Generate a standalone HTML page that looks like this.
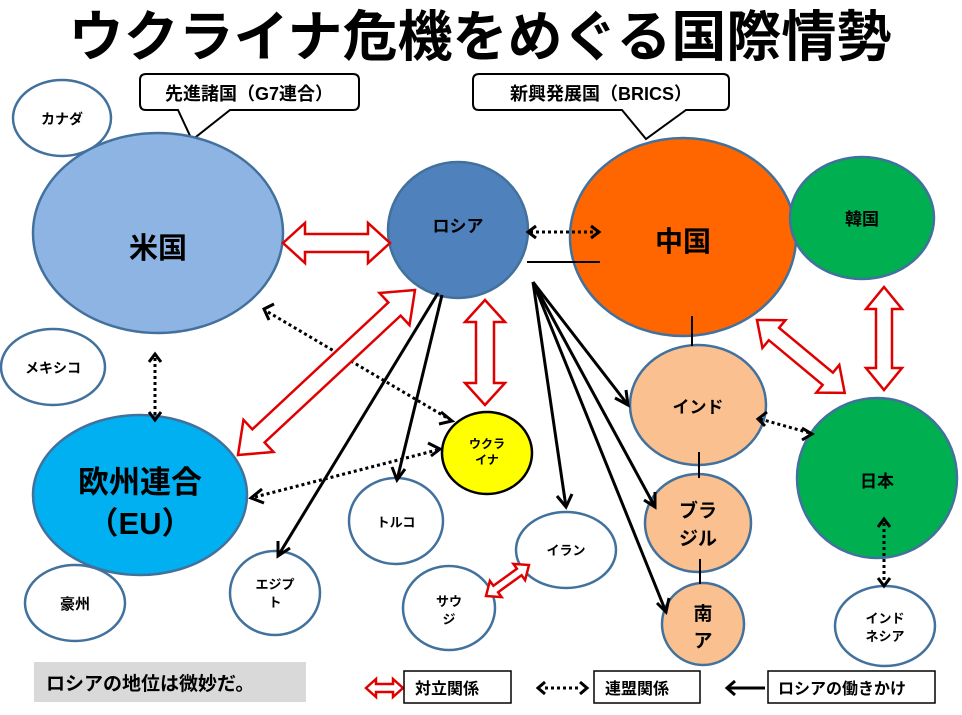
<!DOCTYPE html>
<html><head><meta charset="utf-8"><style>
body{margin:0;background:#fff;}
svg{display:block;}
text{font-family:"Liberation Sans","Noto Sans CJK JP",sans-serif;font-weight:bold;fill:#000;}
</style></head><body>
<svg width="962" height="715" viewBox="0 0 962 715" xmlns="http://www.w3.org/2000/svg">
<text x="480" y="56" font-size="55" text-anchor="middle">ウクライナ危機をめぐる国際情勢</text>

<path d="M146,74 H353 Q359,74 359,80 V104 Q359,110 353,110 H230 L192,140 L178,110 H146 Q140,110 140,104 V80 Q140,74 146,74 Z" fill="#fff" stroke="#000" stroke-width="2"/>
<text x="249" y="100" font-size="18" text-anchor="middle">先進諸国（G7連合）</text>
<path d="M479,74 H723 Q729,74 729,80 V104 Q729,110 723,110 H686 L646,139 L622,110 H479 Q473,110 473,104 V80 Q473,74 479,74 Z" fill="#fff" stroke="#000" stroke-width="2"/>
<text x="601" y="100" font-size="18" text-anchor="middle">新興発展国（BRICS）</text>

<g stroke="#41719C" stroke-width="2.5">
<ellipse cx="62" cy="118" rx="49" ry="38" fill="#fff"/>
<ellipse cx="53" cy="367" rx="52" ry="38" fill="#fff"/>
<ellipse cx="158" cy="233" rx="125" ry="100" fill="#8EB4E3"/>
<ellipse cx="140" cy="495" rx="107" ry="80" fill="#00B0F0"/>
<ellipse cx="75" cy="603" rx="50" ry="38" fill="#fff"/>
<ellipse cx="458" cy="230" rx="70" ry="68" fill="#4F81BD"/>
<ellipse cx="683" cy="237" rx="113" ry="99" fill="#FF6600"/>
<ellipse cx="862" cy="218" rx="72" ry="61" fill="#00B050"/>
<ellipse cx="698" cy="405" rx="68" ry="60" fill="#FAC090"/>
<ellipse cx="698" cy="523" rx="53" ry="49" fill="#FAC090"/>
<ellipse cx="703" cy="624" rx="41" ry="41" fill="#FAC090"/>
<ellipse cx="877" cy="478" rx="80" ry="80" fill="#00B050"/>
<ellipse cx="885" cy="626" rx="50" ry="40" fill="#fff"/>
<ellipse cx="396" cy="521" rx="47" ry="43" fill="#fff"/>
<ellipse cx="566" cy="550" rx="50" ry="38" fill="#fff"/>
<ellipse cx="449" cy="608" rx="46" ry="42" fill="#fff"/>
<ellipse cx="275" cy="593" rx="45" ry="42" fill="#fff"/>
</g>
<ellipse cx="487" cy="453" rx="45" ry="41" fill="#FFFF00" stroke="#000" stroke-width="2.5"/>

<text x="62" y="124" font-size="14" text-anchor="middle">カナダ</text>
<text x="53" y="373" font-size="14" text-anchor="middle">メキシコ</text>
<text x="158" y="258" font-size="29" text-anchor="middle">米国</text>
<text x="140" y="493" font-size="31" text-anchor="middle">欧州連合</text>
<text x="140" y="534" font-size="31" text-anchor="middle">（EU）</text>
<text x="75" y="609" font-size="15" text-anchor="middle">豪州</text>
<text x="458" y="232" font-size="17" text-anchor="middle">ロシア</text>
<text x="683" y="251" font-size="28" text-anchor="middle">中国</text>
<text x="862" y="225" font-size="17" text-anchor="middle">韓国</text>
<text x="698" y="413" font-size="17" text-anchor="middle">インド</text>
<text x="698" y="517" font-size="19" text-anchor="middle">ブラ</text>
<text x="698" y="545" font-size="19" text-anchor="middle">ジル</text>
<text x="703" y="620" font-size="19" text-anchor="middle">南</text>
<text x="703" y="647" font-size="19" text-anchor="middle">ア</text>
<text x="877" y="487" font-size="17" text-anchor="middle">日本</text>
<text x="885" y="623" font-size="13" text-anchor="middle">インド</text>
<text x="885" y="641" font-size="13" text-anchor="middle">ネシア</text>
<text x="487" y="448" font-size="12" font-weight="normal" text-anchor="middle">ウクラ</text>
<text x="487" y="464" font-size="12" font-weight="normal" text-anchor="middle">イナ</text>
<text x="396" y="527" font-size="13" text-anchor="middle">トルコ</text>
<text x="566" y="555" font-size="13" text-anchor="middle">イラン</text>
<text x="449" y="606" font-size="13" text-anchor="middle">サウ</text>
<text x="449" y="624" font-size="13" text-anchor="middle">ジ</text>
<text x="275" y="589" font-size="13" text-anchor="middle">エジプ</text>
<text x="275" y="607" font-size="13" text-anchor="middle">ト</text>

<g stroke="#000" stroke-width="2">
<line x1="527" y1="262" x2="600" y2="262"/>
<line x1="692" y1="316" x2="692" y2="346"/>
<line x1="699" y1="452" x2="699" y2="478"/>
<line x1="700" y1="559" x2="700" y2="584"/>
</g>

<g stroke="#000" stroke-width="3" fill="none">
<line x1="533" y1="282" x2="628" y2="405"/>
<polyline points="615,398 628,405 626,390"/>
<line x1="533" y1="282" x2="655" y2="507"/>
<polyline points="644,500 655,507 655,492"/>
<line x1="533" y1="282" x2="666" y2="612"/>
<polyline points="657,603 666,612 669,598"/>
<line x1="533" y1="282" x2="566" y2="507"/>
<polyline points="557,496 566,507 572,494"/>
<line x1="442" y1="295" x2="397" y2="480"/>
<polyline points="392,467 397,480 405,469"/>
<line x1="438" y1="293" x2="278" y2="556"/>
<polyline points="278,541 278,556 290,548"/>
</g>

<g stroke="#000" stroke-width="3" fill="none">
<line x1="155" y1="358" x2="155" y2="416" stroke-dasharray="3,3"/>
<polyline points="149,362 155,354 161,362"/><polyline points="149,412 155,420 161,412"/>
<line x1="268" y1="312" x2="449" y2="419" stroke-dasharray="3,3"/>
<polyline points="274,304 264,309 269,320"/><polyline points="441,412 452,421 439,424"/>
<line x1="255" y1="497" x2="437" y2="450" stroke-dasharray="3,3"/>
<polyline points="262,489 251,498 264,503"/><polyline points="428,443 440,449 431,456"/>
<line x1="530" y1="232" x2="597" y2="232" stroke-dasharray="3,3"/>
<polyline points="536,226 528,232 536,238"/><polyline points="591,226 599,232 591,238"/>
<line x1="760" y1="419" x2="810" y2="433" stroke-dasharray="3,3"/>
<polyline points="767,412 758,419 765,426"/><polyline points="802,428 812,434 802,440"/>
<line x1="884" y1="523" x2="884" y2="582" stroke-dasharray="3,3"/>
<polyline points="878,527 884,519 890,527"/><polyline points="878,578 884,586 890,578"/>
</g>

<g fill="#fff" stroke="#E00000" stroke-width="2.5" stroke-linejoin="miter">
<polygon transform="translate(283,243)" points="0,0 22,-20 22,-9 85,-9 85,-20 107,0 85,20 85,9 22,9 22,20"/>
<polygon transform="translate(485,300) rotate(90)" points="0,0 22,-20 22,-9 83,-9 83,-20 105,0 83,20 83,9 22,9 22,20"/>
<polygon transform="translate(238,455) rotate(-43)" points="0,0 28,-22 28,-9 214,-9 214,-22 242,0 214,22 214,9 28,9 28,22"/>
<polygon transform="translate(757,320) rotate(39.7)" points="0,0 22,-18 22,-8 92,-8 92,-18 114,0 92,18 92,8 22,8 22,18"/>
<polygon transform="translate(884,287) rotate(90)" points="0,0 22,-18 22,-8 81,-8 81,-18 103,0 81,18 81,8 22,8 22,18"/>
<polygon transform="translate(486,596) rotate(-35.8)" points="0,0 12,-10 12,-4 41,-4 41,-10 53,0 41,10 41,4 12,4 12,10"/>
<polygon transform="translate(366,688)" points="0,0 10,-9 10,-4 27,-4 27,-9 37,0 27,9 27,4 10,4 10,9"/>
</g>

<rect x="34" y="662" width="272" height="40" fill="#D9D9D9"/>
<text x="46" y="690" font-size="19" font-weight="normal">ロシアの地位は微妙だ。</text>
<g fill="#fff" stroke="#000" stroke-width="1.5">
<rect x="404" y="671" width="107" height="32"/>
<rect x="594" y="671" width="106" height="32"/>
<rect x="768" y="671" width="167" height="32"/>
</g>
<text x="415" y="694" font-size="16">対立関係</text>
<text x="605" y="694" font-size="16">連盟関係</text>
<text x="778" y="694" font-size="16">ロシアの働きかけ</text>
<g stroke="#000" stroke-width="3" fill="none">
<line x1="545" y1="688" x2="580" y2="688" stroke-dasharray="3,3"/>
<polyline points="545,682 538,688 545,694"/><polyline points="580,682 587,688 580,694"/>
<line x1="727" y1="688" x2="765" y2="688"/>
<polyline points="735,681 727,688 735,695"/>
</g>
</svg>
</body></html>
